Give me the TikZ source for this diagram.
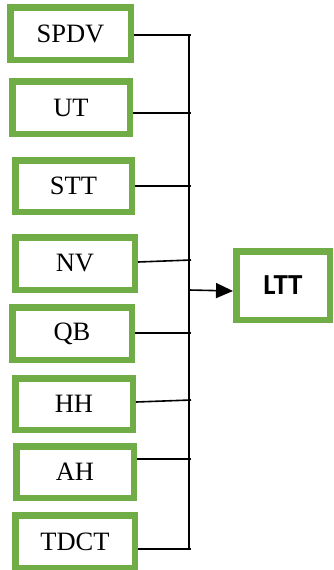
\documentclass[tikz,border=0pt]{standalone}
\usepackage{fontspec}
\setmainfont{Liberation Serif}
\newfontfamily\calib{Carlito}
\usetikzlibrary{arrows.meta}
\definecolor{boxgreen}{HTML}{70AD47}
\begin{document}
\begin{tikzpicture}[x=1pt,y=-1pt,
  gbox/.style={draw=boxgreen, line width=6.5pt, fill=white, inner sep=0pt,
    font=\fontsize{26.5}{30}\selectfont},
  conn/.style={draw=black, line width=1.6pt}]
\useasboundingbox (0,0) rectangle (334,570);
\begin{scope}
\clip (0,0) rectangle (334,570);
\node[gbox, minimum width=120.5pt, minimum height=52.5pt] (SPDV) at (70.5,33.5) {SPDV};
\node[gbox, minimum width=117.5pt, minimum height=52.5pt] (UT) at (71,107.5) {UT};
\node[gbox, minimum width=116.5pt, minimum height=51.5pt] (STT) at (73.5,186) {STT};
\node[gbox, minimum width=119.5pt, minimum height=52.5pt] (NV) at (75,263.5) {NV};
\node[gbox, minimum width=119.5pt, minimum height=52.5pt] (QB) at (72,333.5) {QB};
\node[gbox, minimum width=117.5pt, minimum height=51.5pt] (HH) at (74,404) {HH};
\node[gbox, minimum width=117.5pt, minimum height=51.5pt] (AH) at (75,472) {AH};
\node[gbox, minimum width=119.5pt, minimum height=52.5pt] (TDCT) at (75,541.5) {TDCT};
\node[gbox, minimum width=93.5pt, minimum height=68.5pt, font=\calib\bfseries\fontsize{29}{32}\selectfont] (LTT) at (283,285.5) {LTT};
\end{scope}
% bus coordinates
\coordinate (top) at (189,35);
\coordinate (bot) at (189,549);
\coordinate (j1) at (191,35);
\coordinate (j2) at (191,113);
\coordinate (j3) at (191,186);
\coordinate (j4) at (191,260);
\coordinate (j5) at (191,333);
\coordinate (j6) at (191,400);
\coordinate (j7) at (191,459);
\coordinate (j8) at (191,549);
\coordinate (a) at (189,290);
\draw[conn] (top) -- (bot);
\draw[conn] (SPDV.east |- j1) -- (j1);
\draw[conn] (UT.east |- j2) -- (j2);
\draw[conn] (STT.east |- j3) -- (j3);
\draw[conn] ([yshift=-2pt]NV.east |- j4) -- (j4);
\draw[conn] (QB.east |- j5) -- (j5);
\draw[conn] ([yshift=-2pt]HH.east |- j6) -- (j6);
\draw[conn] (AH.east |- j7) -- (j7);
\draw[conn] (TDCT.east |- j8) -- (j8);
\draw[conn, -{Triangle[length=17pt,width=15pt]}] (a) -- (LTT.west |- 0,291);
\end{tikzpicture}
\end{document}
